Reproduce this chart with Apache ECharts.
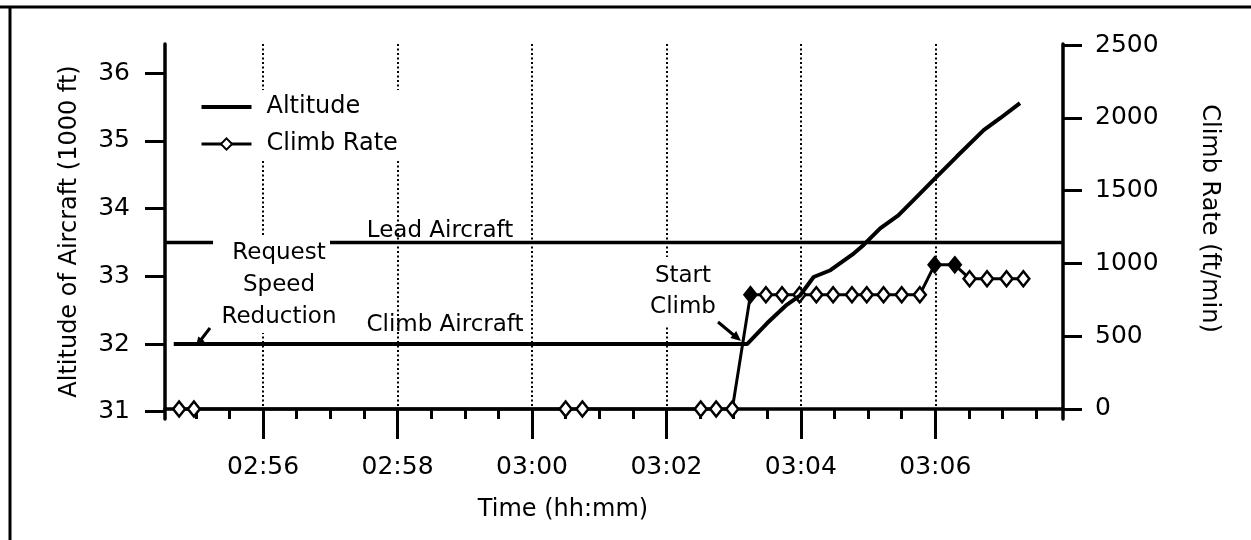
<!DOCTYPE html>
<html>
<head>
<meta charset="utf-8">
<script src="https://cdn.jsdelivr.net/npm/echarts@6/dist/echarts.min.js"></script>
<style>
html, body { margin: 0; padding: 0; background: #fff; }
#chart { width: 1251px; height: 540px; }
</style>
</head>
<body>
<div id="chart"></div>
<script>
// time is minutes after 02:00 (56 = 02:56, 66 = 03:06)
const altitudeTime = [54.67, 63.2, 63.5, 63.79, 63.99, 64.19, 64.44, 64.79, 64.93, 65.18,
    65.45, 65.68, 66.0, 66.32, 66.72, 66.97, 67.26];
const altitude = [32.0, 32.0, 32.31, 32.58, 32.72, 32.99, 33.09, 33.34, 33.46, 33.71,
    33.9, 34.13, 34.45, 34.77, 35.16, 35.34, 35.56];

const climbTime = [54.75, 54.97, 60.5, 60.75, 62.51, 62.74, 62.98,
    63.25, 63.48, 63.72, 63.98, 64.23, 64.48, 64.76, 64.98, 65.23, 65.5, 65.77,
    65.99, 66.29, 66.51, 66.77, 67.06, 67.31];
const climbRate = [0, 0, 0, 0, 0, 0, 0,
    785, 785, 785, 785, 785, 785, 785, 785, 785, 785, 785,
    990, 990, 895, 895, 895, 895];

const leadTime = [54.54, 67.9];
const leadAltitude = [33.5, 33.5];

const majorTimes = [56, 58, 60, 62, 64, 66];
const minorTimes = [55, 55.5, 56, 56.5, 57, 57.5, 58, 58.5, 59, 59.5, 60, 60.5, 61, 61.5,
    62, 62.5, 63, 63.5, 64, 64.5, 65, 65.5, 66, 66.5, 67, 67.5];
const altitudeTicks = [31, 32, 33, 34, 35, 36];
const rateTicks = [0, 500, 1000, 1500, 2000, 2500];

const font = 'DejaVu Sans';
const black = '#000';
const filledPoints = new Set([7, 18, 19]);  // markers that print solid in the original

const zip = (xs, ys) => xs.map((x, i) => [x, ys[i]]);

function fmtTime(v) {
    const h = 2 + Math.floor(v / 60);
    const m = Math.round(v % 60);
    return String(h).padStart(2, '0') + ':' + String(m).padStart(2, '0');
}

const xCommon = {
    type: 'value',
    gridIndex: 0,
    position: 'bottom',
    min: 54.54,
    max: 67.9,
};
const tickStyle = {color: black, width: 3};

const chart = echarts.init(document.getElementById('chart'), null, {renderer: 'canvas'});
chart.setOption({
    animation: false,
    backgroundColor: '#fff',
    grid: {left: 165, right: 188, top: 44, bottom: 121},
    legend: {
        left: 190,
        top: 90,
        orient: 'vertical',
        itemWidth: 50,
        itemHeight: 14,
        itemGap: 11,
        padding: [4, 10, 4, 10],
        backgroundColor: '#fff',
        selectedMode: false,
        lineStyle: {width: 3},
        data: [
            {name: 'Altitude', icon: 'path://M0,0L50,0L50,4L0,4Z'},
            {name: 'Climb Rate'},
        ],
        textStyle: {fontFamily: font, fontSize: 24, color: black, lineHeight: 26, padding: [0, 0, 0, 10]},
    },
    xAxis: [{
        ...xCommon,
        axisLine: {lineStyle: {color: black, width: 3.5}},
        axisTick: {customValues: minorTimes, length: 10, lineStyle: tickStyle},
        axisLabel: {show: false},
        splitLine: {show: false},
    }, {
        ...xCommon,
        axisLine: {show: false},
        axisTick: {customValues: majorTimes, length: 20, lineStyle: tickStyle},
        axisLabel: {
            customValues: majorTimes,
            margin: 36,
            fontFamily: font,
            fontSize: 25,
            color: black,
            formatter: fmtTime,
        },
        splitLine: {show: true, lineStyle: {color: black, width: 2, type: [2, 2.5]}},
    }],
    yAxis: [{
        type: 'value',
        position: 'left',
        min: 30.892,
        max: 36.433,
        name: 'Altitude of Aircraft (1000 ft)',
        nameLocation: 'middle',
        nameGap: 83,
        nameTextStyle: {fontFamily: font, fontSize: 24, color: black},
        axisLine: {show: true, lineStyle: {color: black, width: 3.5}},
        axisTick: {show: true, customValues: altitudeTicks, length: 20, lineStyle: tickStyle},
        axisLabel: {customValues: altitudeTicks, margin: 35, fontFamily: font, fontSize: 25, color: black},
        splitLine: {show: false},
    }, {
        type: 'value',
        position: 'right',
        min: -68.7,
        max: 2507,
        name: 'Climb Rate (ft/min)',
        nameLocation: 'middle',
        nameGap: 134,
        nameRotate: -90,
        nameTextStyle: {fontFamily: font, fontSize: 24, color: black, padding: [0, 26, 0, 0]},
        axisLine: {show: true, lineStyle: {color: black, width: 3.5}},
        axisTick: {show: true, customValues: rateTicks, length: 19, lineStyle: tickStyle},
        axisLabel: {
            customValues: rateTicks,
            margin: 32,
            fontFamily: font,
            fontSize: 25,
            color: black,
            formatter: v => String(v),
        },
        splitLine: {show: false},
    }],
    series: [{
        name: 'Lead',
        type: 'line',
        xAxisIndex: 0,
        yAxisIndex: 0,
        symbol: 'none',
        lineStyle: {color: black, width: 3.5},
        data: zip(leadTime, leadAltitude),
        z: 2,
    }, {
        name: 'Altitude',
        type: 'line',
        xAxisIndex: 0,
        yAxisIndex: 0,
        symbol: 'none',
        lineStyle: {color: black, width: 4},
        itemStyle: {color: black},
        data: zip(altitudeTime, altitude),
        z: 4,
    }, {
        name: 'Climb Rate',
        type: 'line',
        xAxisIndex: 0,
        yAxisIndex: 1,
        symbol: 'diamond',
        symbolSize: [12, 15],
        lineStyle: {color: black, width: 3},
        itemStyle: {color: '#fff', borderColor: black, borderWidth: 2.5},
        data: climbTime.map((t, i) => ({
            value: [t, climbRate[i]],
            itemStyle: filledPoints.has(i) ? {color: black} : undefined,
        })),
        z: 3,
    }],
    graphic: [
        // page frame
        {type: 'line', shape: {x1: 0, y1: 7, x2: 1251, y2: 7}, style: {stroke: black, lineWidth: 3}},
        {type: 'line', shape: {x1: 10, y1: 7, x2: 10, y2: 540}, style: {stroke: black, lineWidth: 3}},
        {
            type: 'text', x: 563, y: 510, z: 60,
            style: {text: 'Time (hh:mm)', align: 'center', verticalAlign: 'middle',
                font: '24px "DejaVu Sans"', fill: black},
        },
        {type: 'rect', shape: {x: 213, y: 236, width: 117, height: 97}, style: {fill: '#fff'}, z: 50},
        {
            type: 'text', x: 279, y: 285, z: 60,
            style: {text: 'Request\nSpeed\nReduction', align: 'center', verticalAlign: 'middle',
                lineHeight: 32, font: '23px "DejaVu Sans"', fill: black},
        },
        {
            type: 'text', x: 440, y: 231, z: 60,
            style: {text: 'Lead Aircraft', align: 'center', verticalAlign: 'middle',
                font: '23px "DejaVu Sans"', fill: black},
        },
        {
            type: 'text', x: 445, y: 325, z: 60,
            style: {text: 'Climb Aircraft', align: 'center', verticalAlign: 'middle',
                font: '23px "DejaVu Sans"', fill: black},
        },
        {
            type: 'text', x: 683, y: 292, z: 60,
            style: {text: 'Start\nClimb', align: 'center', verticalAlign: 'middle',
                lineHeight: 31, font: '23px "DejaVu Sans"', fill: black,
                backgroundColor: '#fff', padding: [4, 4]},
        },
        // arrows
        {type: 'line', z: 60, shape: {x1: 210, y1: 328, x2: 200, y2: 341}, style: {stroke: black, lineWidth: 3}},
        {type: 'polygon', z: 60, shape: {points: [[196, 346], [204.7, 341.3], [198.3, 336.5]]}, style: {fill: black}},
        {type: 'line', z: 60, shape: {x1: 718, y1: 322, x2: 736, y2: 337}, style: {stroke: black, lineWidth: 3}},
        {type: 'polygon', z: 60, shape: {points: [[741, 341], [730.4, 338.1], [736.2, 331.1]]}, style: {fill: black}},
    ],
});
</script>
</body>
</html>
